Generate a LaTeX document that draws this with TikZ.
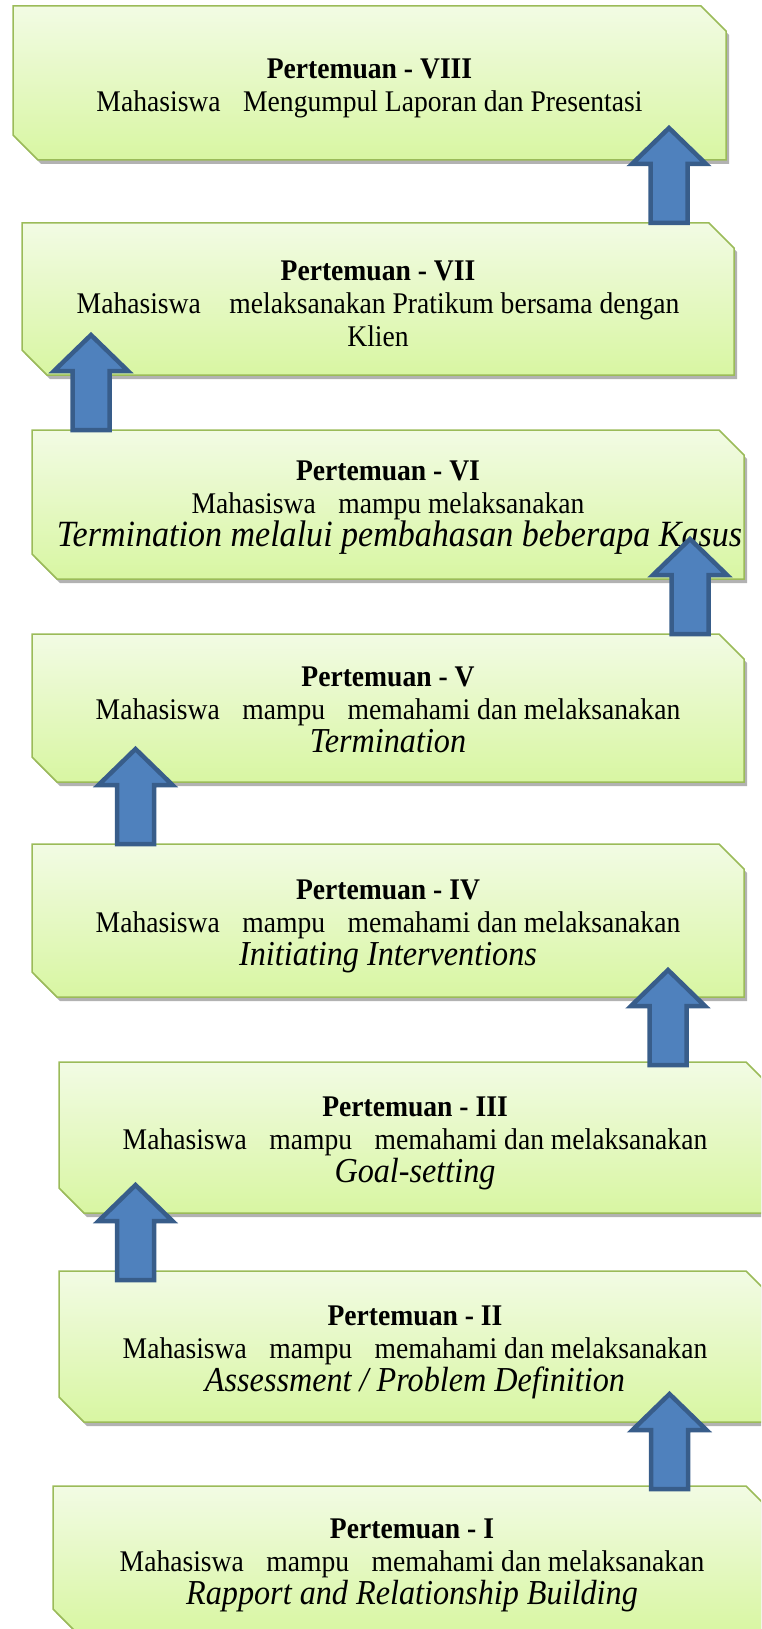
\documentclass[tikz,border=0pt]{standalone}
\usepackage{fontspec}
\setmainfont[FakeStretch=0.92]{Liberation Serif}
\usetikzlibrary{shadows,backgrounds}
\definecolor{boxtop}{HTML}{F2FBE4}
\definecolor{boxbot}{HTML}{D8F6A2}
\definecolor{boxline}{HTML}{9BBB59}
\definecolor{arrfill}{HTML}{4F81BD}
\definecolor{arrline}{HTML}{385D8A}
\tikzset{
  stagebox/.style={rectangle, inner sep=0pt, outer sep=0pt, anchor=north west,
    align=center, font=\fontsize{30}{33}\selectfont, text=black},
  chamfill/.style={draw=boxline, line width=1.5pt, top color=boxtop, bottom color=boxbot,
    drop shadow={shadow xshift=3pt, shadow yshift=-4pt, opacity=0.3, fill=black}},
  blkarrow/.style={draw=arrline, fill=arrfill, line width=4.5pt, line join=miter},
}
\newcommand\wgap{\hspace{0.75em}}
\newcommand\itl[1]{{\fontsize{35}{33}\selectfont\itshape #1}}
\newcommand\itlb[1]{{\fontsize{37}{33}\selectfont\itshape #1}}
\newcommand\tstrut[1]{\rule{0pt}{#1pt}}
\newcommand\chamfer[1]{\path[chamfill] (#1.north west) -- ([xshift=-25pt]#1.north east)
  -- ([yshift=-25pt]#1.north east) -- (#1.south east) -- ([xshift=25pt]#1.south west)
  -- ([yshift=25pt]#1.south west) -- cycle;}
\newcommand\upblock[1]{\path[blkarrow] (#1) ++(0,4) -- ++(37,36) -- ++(-18.5,0) -- ++(0,59)
  -- ++(-37,0) -- ++(0,-59) -- ++(-18.5,0) -- cycle;}
\begin{document}
\begin{tikzpicture}[x=1pt,y=-1pt]
\useasboundingbox (0,0) rectangle (761,1629);
\clip (0,0) rectangle (761,1629);

\node[stagebox, minimum width=713pt, minimum height=154pt] (b8) at (13,6)
  {\tstrut{31}\textbf{Pertemuan - VIII}\\ Mahasiswa\wgap Mengumpul Laporan dan Presentasi};
\node[stagebox, minimum width=712pt, minimum height=152pt] (b7) at (22,223)
  {\tstrut{30}\textbf{Pertemuan - VII}\\ Mahasiswa\hspace{0.95em}melaksanakan Pratikum bersama dengan\\ Klien};
\node[stagebox, minimum width=712pt, minimum height=149pt] (b6) at (32,430)
  {\tstrut{25}\textbf{Pertemuan - VI}\\ Mahasiswa\wgap mampu melaksanakan\\ \hspace{23pt}\itlb{Termination melalui pembahasan beberapa Kasus}};
\node[stagebox, minimum width=712pt, minimum height=148pt] (b5) at (32,634)
  {\tstrut{24}\textbf{Pertemuan - V}\\ Mahasiswa\wgap mampu\wgap memahami dan melaksanakan\\ \itl{Termination}};
\node[stagebox, minimum width=712pt, minimum height=153pt] (b4) at (32,844)
  {\tstrut{31}\textbf{Pertemuan - IV}\\ Mahasiswa\wgap mampu\wgap memahami dan melaksanakan\\ \itl{Initiating Interventions}};
\node[stagebox, minimum width=712pt, minimum height=151pt] (b3) at (59,1062)
  {\tstrut{31}\textbf{Pertemuan - III}\\ Mahasiswa\wgap mampu\wgap memahami dan melaksanakan\\ \itl{Goal-setting}};
\node[stagebox, minimum width=712pt, minimum height=151pt] (b2) at (59,1271)
  {\tstrut{31}\textbf{Pertemuan - II}\\ Mahasiswa\wgap mampu\wgap memahami dan melaksanakan\\ \itl{Assessment / Problem Definition}};
\node[stagebox, minimum width=718pt, minimum height=148pt] (b1) at (53,1486)
  {\tstrut{31}\textbf{Pertemuan - I}\\ Mahasiswa\wgap mampu\wgap memahami dan melaksanakan\\ \itl{Rapport and Relationship Building}};

\begin{scope}[on background layer]
  \clip (0,0) rectangle (761,1629);
  \foreach \b in {b8,b7,b6,b5,b4,b3,b2,b1} {\chamfer{\b}}
\end{scope}

\coordinate (t1) at (669,124);
\coordinate (t2) at (91,331);
\coordinate (t3) at (690,535);
\coordinate (t4) at (135.5,745);
\coordinate (t5) at (668,966);
\coordinate (t6) at (135.5,1181);
\coordinate (t7) at (669.5,1390);
\foreach \t in {t1,t2,t3,t4,t5,t6,t7} {\upblock{\t}}
\end{tikzpicture}
\end{document}
